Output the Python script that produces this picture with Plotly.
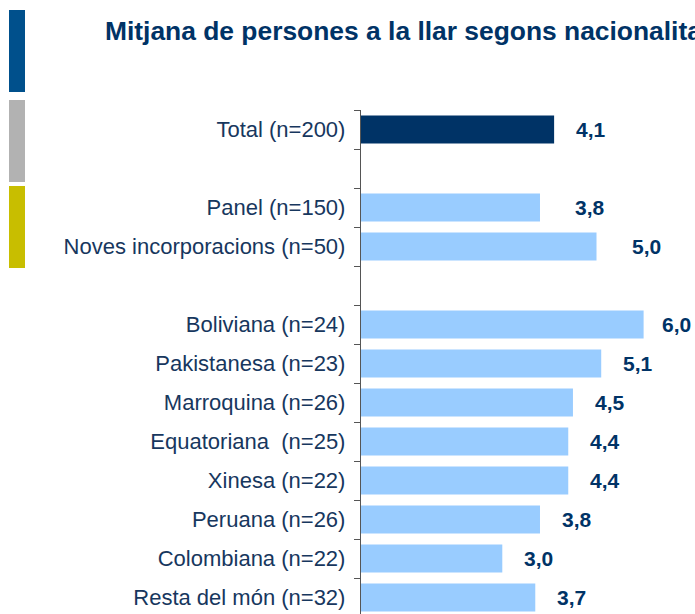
import plotly.graph_objects as go

# ---- data ----
categories = [
    "Total (n=200)",
    "Panel (n=150)",
    "Noves incorporacions (n=50)",
    "Boliviana (n=24)",
    "Pakistanesa (n=23)",
    "Marroquina (n=26)",
    "Equatoriana\u00a0 (n=25)",
    "Xinesa (n=22)",
    "Peruana (n=26)",
    "Colombiana (n=22)",
    "Resta del món (n=32)",
]
values = [4.1, 3.8, 5.0, 6.0, 5.1, 4.5, 4.4, 4.4, 3.8, 3.0, 3.7]
# row order, top to bottom (blank rows separate the groups)
row_order = [
    "Total (n=200)", " ",
    "Panel (n=150)", "Noves incorporacions (n=50)", "  ",
    "Boliviana (n=24)", "Pakistanesa (n=23)", "Marroquina (n=26)",
    "Equatoriana\u00a0 (n=25)", "Xinesa (n=22)", "Peruana (n=26)",
    "Colombiana (n=22)", "Resta del món (n=32)",
]
title_text = "Mitjana de persones a la llar segons nacionalitat"

# ---- styling ----
W, H = 695, 614
ML, MR, MT, MB = 361, 9, 110, 0
NAVY = "#003366"
LIGHT = "#99CCFF"
TXT = "#17375E"
FONT = "Liberation Sans, Arial, sans-serif"

bar_colors = [NAVY] + [LIGHT] * (len(categories) - 1)
label_gap = {"Panel (n=150)": 33, "Noves incorporacions (n=50)": 33, "Boliviana (n=24)": 16}

fig = go.Figure()
fig.add_trace(go.Bar(
    x=values, y=categories, orientation="h",
    marker=dict(color=bar_colors, line=dict(width=0)),
    width=0.72, hoverinfo="skip",
))

for c, v in zip(categories, values):
    fig.add_annotation(
        x=v, y=c, xref="x", yref="y", showarrow=False,
        text="<b>" + f"{v:.1f}".replace(".", ",") + "</b>",
        xanchor="left", yanchor="middle", xshift=label_gap.get(c, 20),
        font=dict(family=FONT, size=21, color=NAVY),
    )

pw = W - ML - MR
ph = H - MT - MB

def px_x(x):
    return (x - ML) / pw

def px_y(y):
    return 1 - (y - MT) / ph

for (y0, y1, col) in [(10, 92, "#00508C"), (100, 182, "#B2B2B2"), (186, 268, "#C8BE00")]:
    fig.add_shape(type="rect", xref="paper", yref="paper",
                  x0=px_x(9), x1=px_x(25), y0=px_y(y1), y1=px_y(y0),
                  fillcolor=col, line=dict(width=0), layer="above")

n = len(row_order)
fig.update_layout(
    width=W, height=H,
    margin=dict(l=ML, r=MR, t=MT, b=MB, pad=0),
    paper_bgcolor="white", plot_bgcolor="white",
    showlegend=False,
    bargap=0.28,
    title=dict(
        text="<b>" + title_text + "</b>",
        xref="container", yref="container",
        x=105 / W, xanchor="left", y=1 - 31 / H, yanchor="middle",
        font=dict(family=FONT, size=26.4, color=NAVY),
    ),
    xaxis=dict(range=[0, 6.9], visible=False, fixedrange=True),
    yaxis=dict(
        type="category", categoryorder="array", categoryarray=row_order,
        range=[n - 0.5 - 3 / 39, -0.5],
        tickson="boundaries", ticks="outside", ticklen=6, tickcolor="#555555",
        showline=True, linecolor="#555555", linewidth=1.3,
        showgrid=False, zeroline=False, automargin=False,
        ticklabelstandoff=10,
        tickfont=dict(family=FONT, size=22, color=TXT),
    ),
)

fig.write_html(
    "out.html",
    config={"displayModeBar": False},
    post_script="document.body.style.margin='0';document.body.style.overflow='hidden';",
)
